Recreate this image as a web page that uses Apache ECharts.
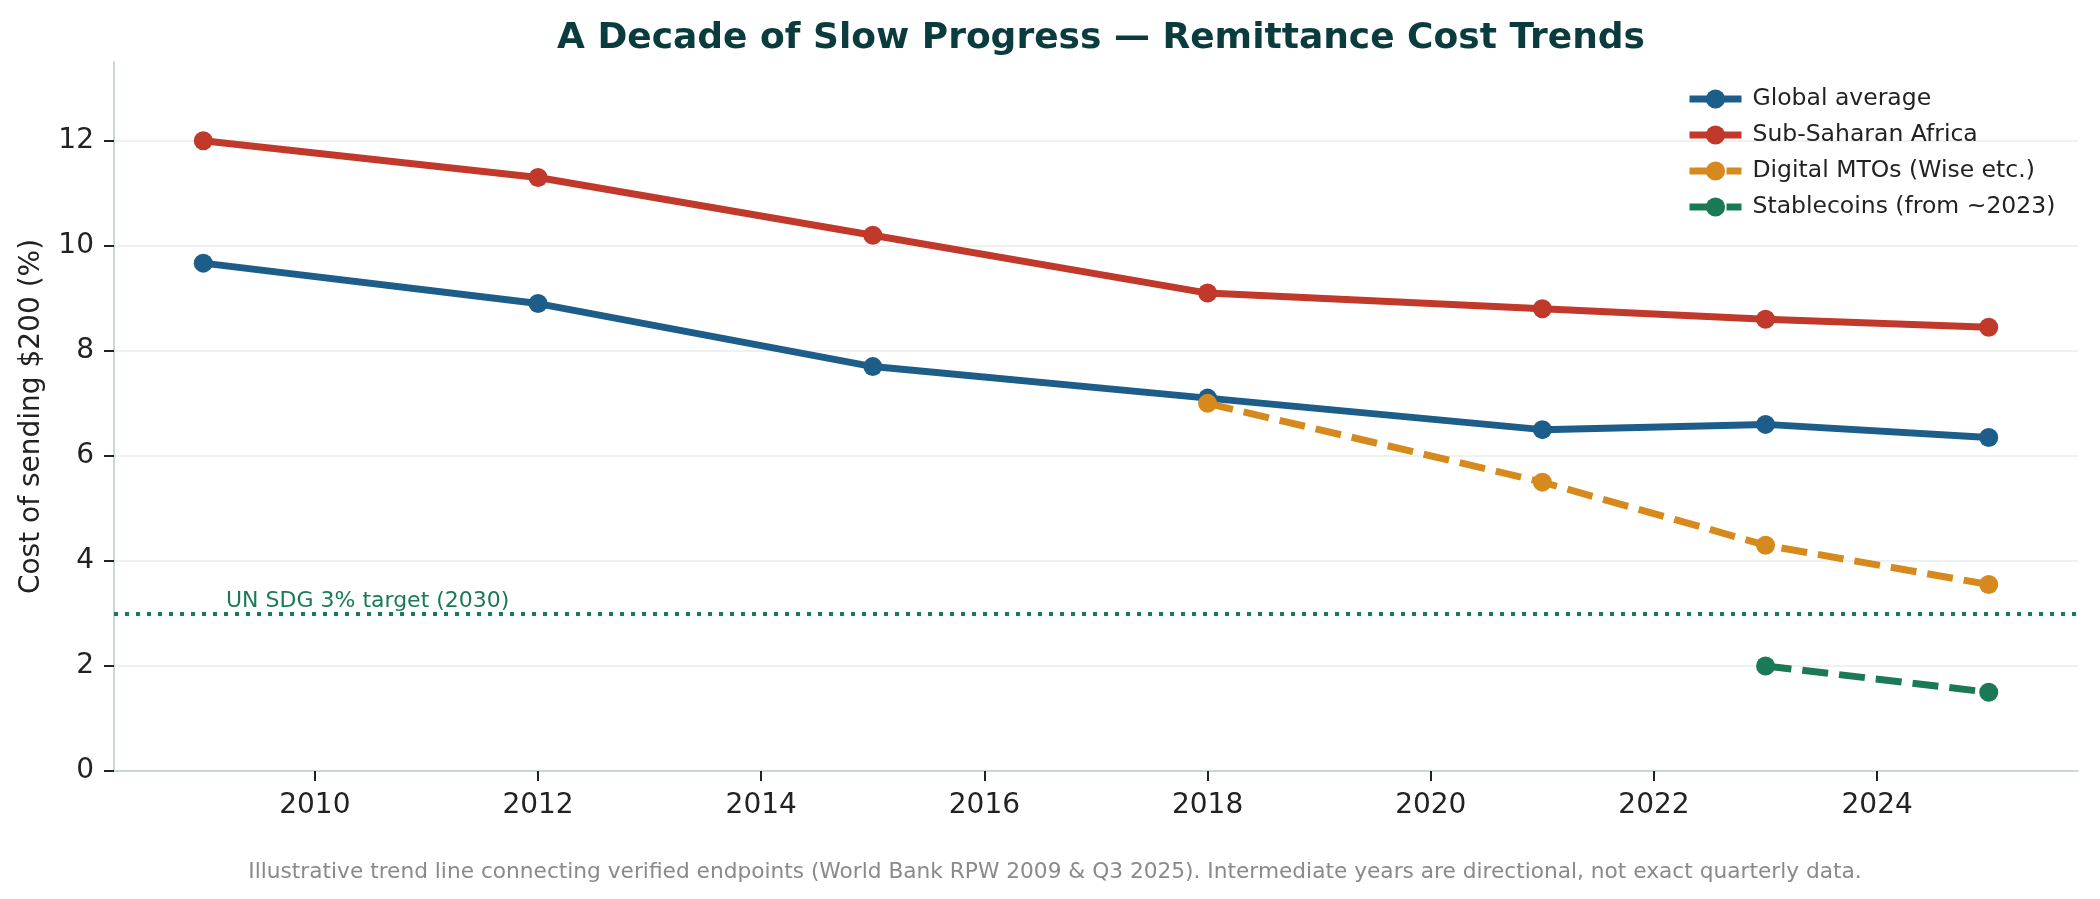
<!DOCTYPE html>
<html>
<head>
<meta charset="UTF-8">
<title>Remittance Cost Trends</title>
<script src="https://cdn.jsdelivr.net/npm/echarts@6/dist/echarts.min.js"></script>
<style>
  html, body { margin: 0; padding: 0; background: #fff; }
  #chart { width: 2100px; height: 899px; }
</style>
</head>
<body>
<div id="chart"></div>
<script>
// values
var years = [2009, 2012, 2015, 2018, 2021, 2023, 2025];
var globalAvg = [9.67, 8.9, 7.7, 7.1, 6.5, 6.6, 6.35];
var subSaharan = [12.0, 11.3, 10.2, 9.1, 8.8, 8.6, 8.45];
var digitalYears = [2018, 2021, 2023, 2025];
var digitalMTO = [7.0, 5.5, 4.3, 3.55];
var stableYears = [2023, 2025];
var stablecoins = [2.0, 1.5];
var xTicks = [2010, 2012, 2014, 2016, 2018, 2020, 2022, 2024];
var yTicks = [0, 2, 4, 6, 8, 10, 12];
var sdgTarget = 3;

function pairs(xs, ys) {
  return xs.map(function (x, i) { return [x, ys[i]]; });
}

var chart = echarts.init(document.getElementById('chart'));

var lineSeries = function (name, data, color, dashed) {
  return {
    name: name,
    type: 'line',
    data: data,
    symbol: 'circle',
    symbolSize: 19,
    lineStyle: { color: color, width: 7, type: dashed ? [26, 11] : 'solid', cap: 'butt' },
    itemStyle: { color: color },
    emphasis: { disabled: true }
  };
};

var sGlobal = lineSeries('Global average', pairs(years, globalAvg), '#1c5d89', false);
sGlobal.markLine = {
  silent: true,
  symbol: 'none',
  data: [{ yAxis: sdgTarget }],
  lineStyle: { color: '#1a7a56', width: 4, type: [4, 7], cap: 'butt' },
  label: {
    show: true,
    position: 'insideStartTop',
    distance: [112, 1],
    formatter: 'UN SDG 3% target (2030)',
    color: '#1a7a56',
    fontSize: 22
  }
};

option = {
  animation: false,
  backgroundColor: '#ffffff',
  textStyle: { fontFamily: 'DejaVu Sans' },
  title: [
    {
      text: 'A Decade of Slow Progress \u2014 Remittance Cost Trends',
      left: 1096,
      textAlign: 'center',
      top: 16,
      textStyle: { fontSize: 36, fontWeight: 'bold', color: '#0b3c3d' }
    },
    {
      text: 'Illustrative trend line connecting verified endpoints (World Bank RPW 2009 & Q3 2025). Intermediate years are directional, not exact quarterly data.',
      left: 1050,
      textAlign: 'center',
      top: 856,
      textStyle: { fontSize: 21.7, fontWeight: 'normal', color: '#8a8a8a' }
    }
  ],
  legend: {
    orient: 'vertical',
    left: 1681,
    top: 82,
    itemWidth: 52,
    itemHeight: 24,
    itemGap: 12,
    lineStyle: { width: 7 },
    textStyle: { fontSize: 23.5, color: '#222222', padding: [0, 0, 0, 6] },
    data: ['Global average', 'Sub-Saharan Africa', 'Digital MTOs (Wise etc.)', 'Stablecoins (from ~2023)']
  },
  grid: { left: 114, right: 22, top: 62, bottom: 128 },
  xAxis: {
    type: 'value',
    min: 2008.2,
    max: 2025.8,
    axisLine: { show: true, lineStyle: { color: '#ccd6d6', width: 2 } },
    axisTick: { show: true, customValues: xTicks, length: 10, lineStyle: { color: '#222222', width: 2 } },
    axisLabel: {
      customValues: xTicks, fontSize: 28, color: '#222222', margin: 21,
      formatter: function (v) { return String(v); }
    },
    splitLine: { show: false }
  },
  yAxis: {
    type: 'value',
    min: 0,
    max: 13.5,
    name: 'Cost of sending $200 (%)',
    nameLocation: 'middle',
    nameGap: 68,
    nameTextStyle: { fontSize: 28, color: '#222222' },
    axisLine: { show: true, lineStyle: { color: '#ccd6d6', width: 2 } },
    axisTick: { show: true, customValues: yTicks, length: 10, lineStyle: { color: '#222222', width: 2 } },
    axisLabel: { customValues: yTicks, fontSize: 28, color: '#222222', margin: 20 },
    splitLine: { show: true, customValues: yTicks, lineStyle: { color: '#eef1f1', width: 2 } }
  },
  series: [
    sGlobal,
    lineSeries('Sub-Saharan Africa', pairs(years, subSaharan), '#c0392b', false),
    lineSeries('Digital MTOs (Wise etc.)', pairs(digitalYears, digitalMTO), '#d68a1e', true),
    lineSeries('Stablecoins (from ~2023)', pairs(stableYears, stablecoins), '#1a7a56', true)
  ]
};
chart.setOption(option);
</script>
</body>
</html>
